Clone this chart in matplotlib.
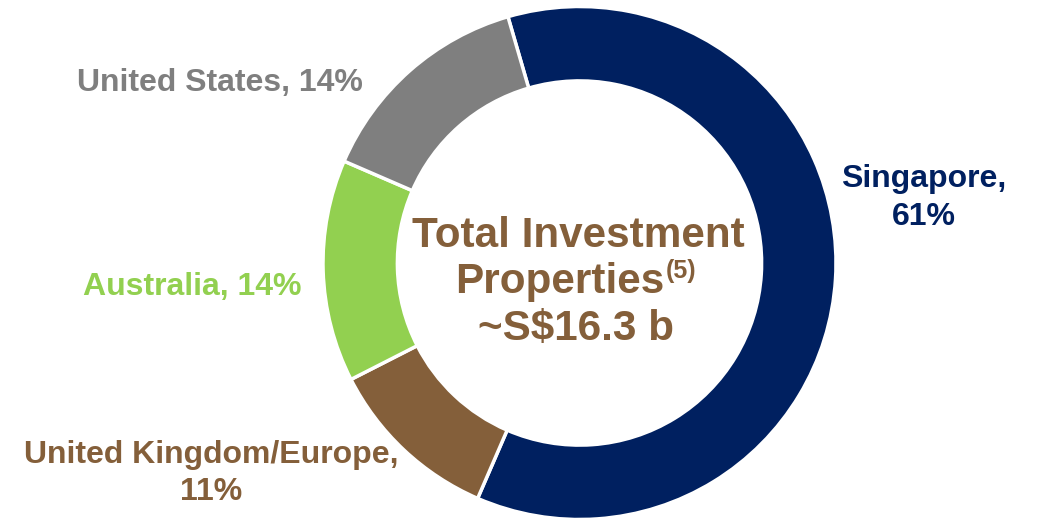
import matplotlib.pyplot as plt

# shares of total investment properties, %
regions = ['Singapore', 'United Kingdom/Europe', 'Australia', 'United States']
shares = [61, 11, 14, 14]
labels = ['Singapore,\n61%', 'United Kingdom/Europe,\n11%', 'Australia, 14%', 'United States, 14%']
colors = ['#002060', '#845F3A', '#92D050', '#7F7F7F']

plt.rcParams['font.family'] = ['Liberation Sans', 'DejaVu Sans']

H = 518  # figure height in px, texts placed in pixel rows from the top
fig = plt.figure(figsize=(10.4, 5.18), dpi=100)
ax = fig.add_axes([0, 0, 1, 1])

cx, cy, r = 579.5, H - 263, 256.5
ax.pie(shares, colors=colors, startangle=106.2, counterclock=False,
       center=(cx, cy), radius=r, frame=True,
       wedgeprops=dict(width=r * 0.29, edgecolor='white', linewidth=2.5))
ax.set_xlim(0, 1040)
ax.set_ylim(0, H)
ax.set_aspect('equal')
ax.axis('off')

# outside labels: centre x and baseline row of each line
pos = [(924, [187, 225]), (211, [463, 500]), (192, [295]), (220, [91])]
for lab, c, (x, rows) in zip(labels, colors, pos):
    for line, yrow in zip(lab.split('\n'), rows):
        ax.text(x, H - yrow, line, color=c, fontsize=23, fontweight='bold',
                ha='center', va='baseline')

# centre text
brown = colors[1]
ax.text(578, H - 247, 'Total Investment', color=brown, fontsize=30.4,
        fontweight='bold', ha='center', va='baseline')
ax.text(664, H - 293, 'Properties', color=brown, fontsize=30.4,
        fontweight='bold', ha='right', va='baseline')
ax.text(666, H - 278, '(5)', color=brown, fontsize=18,
        fontweight='bold', ha='left', va='baseline')
ax.text(576, H - 340, '~S$16.3 b', color=brown, fontsize=30.4,
        fontweight='bold', ha='center', va='baseline')

fig.savefig('out.png', dpi=100, facecolor='white')
